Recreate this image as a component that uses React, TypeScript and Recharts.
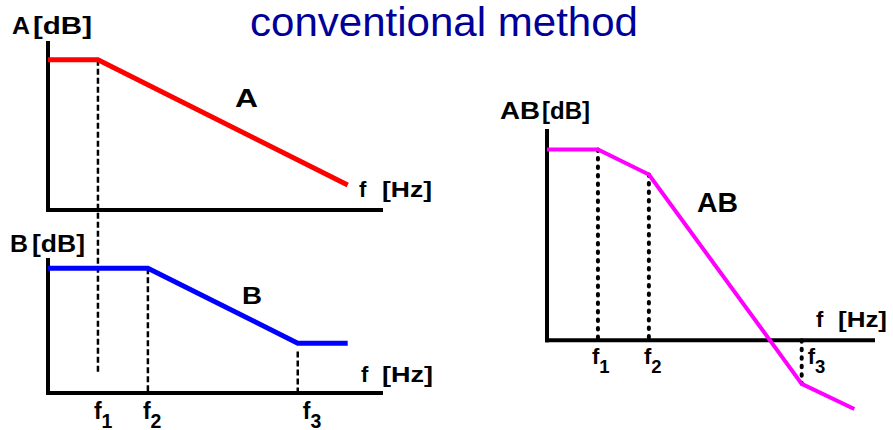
import React from "react"
import { ComposedChart, Line, XAxis, YAxis, ReferenceLine, ReferenceDot } from "recharts"

// frequency in log units (one unit ~ one slope step), gain in dB units
const freqA = [0, 1.5, 9]
const gainA = [9, 9, 1.5]

const freqB = [0, 3, 7.5, 9]
const gainB = [7.5, 7.5, 3, 3]

const freqAB = [0, 1.5, 3, 7.5, 9.05]
const gainAB = [11.4, 11.4, 9.9, -2.6, -4.1]

// corner frequencies f1, f2, f3
const corners = [1.5, 3, 7.5]
const cornerNames = ["1", "2", "3"]

const FONT = "Arial, 'Liberation Sans', Helvetica, sans-serif"

const toRows = (xs: number[], ys: number[]) => xs.map((f, i) => ({ f, g: ys[i] }))

const axisLine = { stroke: "#000", strokeWidth: 4, strokeLinecap: "square" as const }
const thinDash = { stroke: "#000", strokeWidth: 2.5, strokeDasharray: "6 3" }
const dotDash = { stroke: "#000", strokeWidth: 4, strokeDasharray: "1.5 7", strokeLinecap: "round" as const }

function FTick({ cx, cy, sub, dx, dy, size }: any) {
  return (
    <text x={cx + dx} y={cy + dy} fontFamily={FONT} fontWeight="bold" fontSize={size} fill="#000">
      f
      <tspan fontSize={size - 3.5} dy={8.5}>
        {sub}
      </tspan>
    </text>
  )
}

function PanelA() {
  const rows = toRows(freqA, gainA)
  return (
    <div style={{ position: "absolute", left: 0, top: 0 }}>
      <ComposedChart width={450} height={390} data={rows} margin={{ top: 43, right: 69, bottom: 180, left: 48 }}>
        <XAxis dataKey="f" type="number" domain={[0, 10]} hide />
        <YAxis type="number" domain={[0, 10]} hide />
        <ReferenceLine segment={[{ x: 0, y: 0 }, { x: 0, y: 10 }]} {...axisLine} />
        <ReferenceLine segment={[{ x: 0, y: 0 }, { x: 10, y: 0 }]} {...axisLine} />
        {/* f1 guide runs on down into the B panel */}
        <ReferenceLine segment={[{ x: corners[0], y: gainA[1] }, { x: corners[0], y: -9.8 }]} ifOverflow="visible" {...thinDash} />
        <Line type="linear" dataKey="g" stroke="#ff0000" strokeWidth={5} dot={false} isAnimationActive={false} />
      </ComposedChart>
    </div>
  )
}

function PanelB() {
  const rows = toRows(freqB, gainB)
  const offs = [-4, -5, 5]
  return (
    <div style={{ position: "absolute", left: 0, top: 220 }}>
      <ComposedChart width={450} height={210} data={rows} margin={{ top: 40, right: 69, bottom: 37, left: 48 }}>
        <XAxis dataKey="f" type="number" domain={[0, 10]} hide />
        <YAxis type="number" domain={[0, 8]} hide />
        <ReferenceLine segment={[{ x: 0, y: 0 }, { x: 0, y: 8 }]} {...axisLine} />
        <ReferenceLine segment={[{ x: 0, y: 0 }, { x: 10, y: 0 }]} {...axisLine} />
        <ReferenceLine segment={[{ x: corners[1], y: gainB[1] }, { x: corners[1], y: 0 }]} {...thinDash} />
        <ReferenceLine segment={[{ x: corners[2], y: 2.5 }, { x: corners[2], y: 0 }]} {...thinDash} />
        <Line type="linear" dataKey="g" stroke="#0000ff" strokeWidth={5} dot={false} isAnimationActive={false} />
        {corners.map((c, i) => (
          <ReferenceDot
            key={c}
            x={c}
            y={0}
            r={0}
            ifOverflow="visible"
            shape={(p: any) => <FTick cx={p.cx} cy={p.cy} sub={cornerNames[i]} dx={offs[i]} dy={26} size={23} />}
          />
        ))}
      </ComposedChart>
    </div>
  )
}

function PanelAB() {
  const rows = toRows(freqAB, gainAB)
  const offs = [-6, -5, 6]
  return (
    <div style={{ position: "absolute", left: 480, top: 90 }}>
      <ComposedChart width={413} height={340} data={rows} margin={{ top: 41, right: 20, bottom: 6, left: 67 }}>
        <XAxis dataKey="f" type="number" domain={[0, 9.6]} hide />
        <YAxis type="number" domain={[-5, 12.5]} hide />
        <ReferenceLine segment={[{ x: 0, y: 0 }, { x: 0, y: 12.5 }]} {...axisLine} />
        <ReferenceLine segment={[{ x: 0, y: 0 }, { x: 9.6, y: 0 }]} {...axisLine} />
        <ReferenceLine segment={[{ x: corners[0], y: gainAB[1] }, { x: corners[0], y: 0 }]} {...dotDash} />
        <ReferenceLine segment={[{ x: corners[1], y: gainAB[2] }, { x: corners[1], y: 0 }]} {...dotDash} />
        <ReferenceLine segment={[{ x: corners[2], y: 0 }, { x: corners[2], y: gainAB[3] }]} {...dotDash} />
        <Line type="linear" dataKey="g" stroke="#ff00ff" strokeWidth={4} dot={false} isAnimationActive={false} />
        {corners.map((c, i) => (
          <ReferenceDot
            key={c}
            x={c}
            y={0}
            r={0}
            ifOverflow="visible"
            shape={(p: any) => <FTick cx={p.cx} cy={p.cy} sub={cornerNames[i]} dx={offs[i]} dy={24} size={22} />}
          />
        ))}
      </ComposedChart>
    </div>
  )
}

function T({ x, y, size, w, children, color = "#000", weight = "bold" }: any) {
  return (
    <text
      x={x}
      y={y}
      fontSize={size}
      fontWeight={weight}
      fill={color}
      fontFamily={FONT}
      textLength={w}
      lengthAdjust={w ? "spacingAndGlyphs" : undefined}
    >
      {children}
    </text>
  )
}

export default function App() {
  return (
    <div style={{ position: "absolute", left: 0, top: 0, width: 893, height: 430, background: "#fff", overflow: "hidden" }}>
      <PanelA />
      <PanelB />
      <PanelAB />
      <svg width={893} height={430} style={{ position: "absolute", left: 0, top: 0, pointerEvents: "none" }}>
        <T x={250} y={36} size={40} w={388} color="#000099" weight="normal">
          conventional method
        </T>

        <T x={12} y={34} size={24} w={18}>A</T>
        <T x={33} y={34} size={24} w={59}>[dB]</T>
        <T x={235} y={107} size={26} w={23}>A</T>
        <T x={359} y={197} size={22}>f</T>
        <T x={382} y={197} size={22} w={50}>[Hz]</T>

        <T x={10} y={252} size={24} w={18}>B</T>
        <T x={32} y={252} size={24} w={53}>[dB]</T>
        <T x={242} y={304} size={24} w={20}>B</T>
        <T x={361} y={382} size={22}>f</T>
        <T x={382} y={382} size={22} w={51}>[Hz]</T>

        <T x={500} y={119} size={24} w={40}>AB</T>
        <T x={542} y={119} size={24} w={48}>[dB]</T>
        <T x={697} y={212} size={27} w={41}>AB</T>
        <T x={816} y={327} size={22}>f</T>
        <T x={838} y={327} size={22} w={49}>[Hz]</T>
      </svg>
    </div>
  )
}
